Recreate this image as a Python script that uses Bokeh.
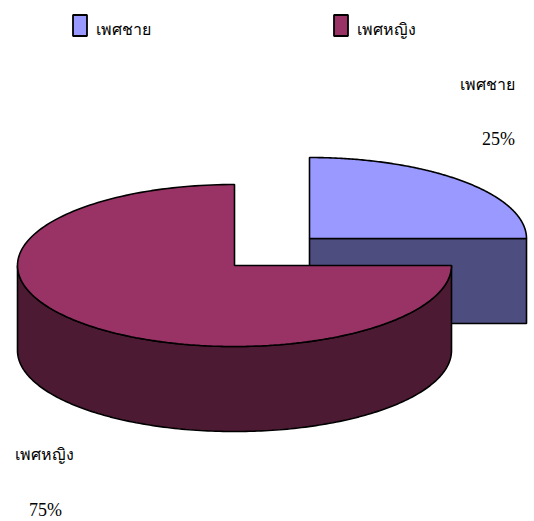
import numpy as np
from bokeh.plotting import figure
from bokeh.models import Range1d
from bokeh.core.properties import value
from bokeh.embed import file_html
from bokeh.resources import INLINE

categories = ["เพศชาย", "เพศหญิง"]
shares = [25, 75]
percent_labels = ["25%", "75%"]
top_colors = ["#9999FF", "#993366"]
side_colors = ["#4D4D80", "#4D1A33"]

W, H = 534, 521
RX, RY, DEPTH = 217, 81, 85
FONT = value("Liberation Serif")

p = figure(width=W, height=H, output_backend="svg", toolbar_location=None,
           x_range=Range1d(0, W), y_range=Range1d(H, 0),
           min_border=0, outline_line_color=None, background_fill_color="white",
           border_fill_color="white")
p.axis.visible = False
p.grid.visible = False


def arc(cx, cy, a0, a1):
    t = np.radians(np.linspace(a0, a1, 181))
    return cx + RX * np.cos(t), cy - RY * np.sin(t)


# angles run clockwise from twelve o'clock
ends = 90 - np.cumsum(shares) * 360 / sum(shares)
starts = np.r_[90, ends[:-1]]
centers = [(309, 238), (234, 265)]
LW = 1.6

# male slice: flat cut face, then its top
cx, cy = centers[0]
p.patch([cx, cx + RX, cx + RX, cx], [cy, cy, cy + DEPTH, cy + DEPTH],
        fill_color=side_colors[0], line_color="black", line_width=LW)
x, y = arc(cx, cy, starts[0], ends[0])
p.patch(np.r_[cx, x], np.r_[cy, y], fill_color=top_colors[0], line_color="black", line_width=LW)

# female slice: curved wall (visible lower half), then its top
cx, cy = centers[1]
x, y = arc(cx, cy, -180, 0)
p.patch(np.r_[x, x[::-1]], np.r_[y, y[::-1] + DEPTH],
        fill_color=side_colors[1], line_color="black", line_width=LW)
x, y = arc(cx, cy, starts[1], ends[1])
p.patch(np.r_[cx, x], np.r_[cy, y], fill_color=top_colors[1], line_color="black", line_width=LW)

# legend
p.rect([79.5, 340.5], [25, 25], width=14, height=21, fill_color=top_colors,
       line_color="black", line_width=1.8)
p.text([95, 356], [29, 29], text=categories, text_font=FONT, text_font_size="16px",
       text_align="left", text_baseline="middle", text_color="black")

# data labels
p.text([487, 44], [84, 454], text=categories, text_font=FONT, text_font_size="16px",
       text_align="center", text_baseline="middle", text_color="black")
p.text([498, 45], [138, 509], text=percent_labels, text_font=FONT, text_font_size="18px",
       text_align="center", text_baseline="middle", text_color="black")

open("out.html", "w").write(file_html(p, INLINE))
